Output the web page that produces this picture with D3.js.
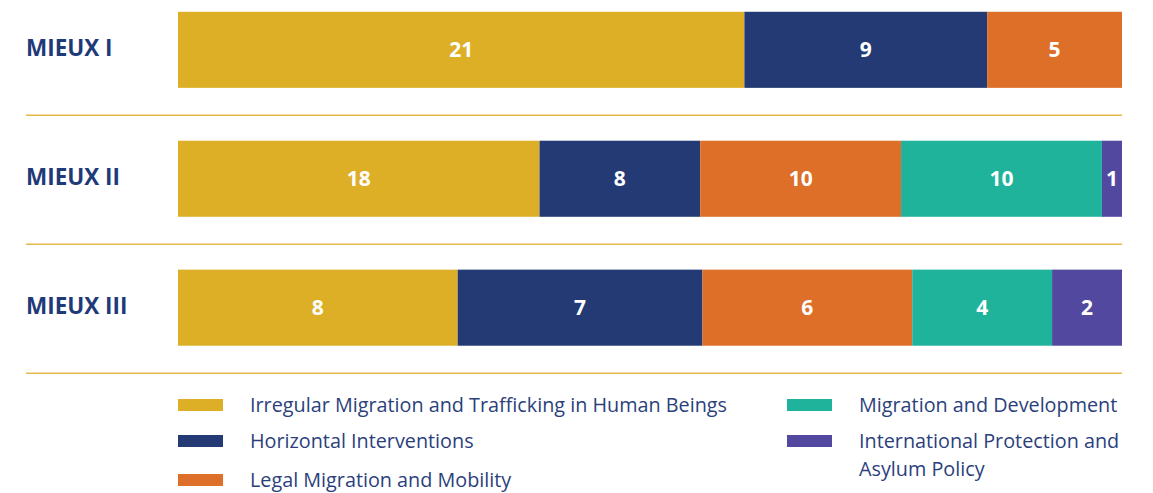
<!DOCTYPE html>
<html>
<head>
<meta charset="utf-8">
<script src="https://cdn.jsdelivr.net/npm/d3@7"></script>
<style>
  body { margin: 0; background: #fff; }
  svg { display: block; font-family: "Open Sans", "Noto Sans", sans-serif; }
</style>
</head>
<body>
<div id="chart"></div>
<script>
// data
const programmes = ["MIEUX I", "MIEUX II", "MIEUX III"]
const themes = [
  "Irregular Migration and Trafficking in Human Beings",
  "Horizontal Interventions",
  "Legal Migration and Mobility",
  "Migration and Development",
  "International Protection and Asylum Policy"
]
const irregular = [21, 18, 8]
const horizontal = [9, 8, 7]
const legal = [5, 10, 6]
const development = [0, 10, 4]
const protection = [0, 1, 2]
const colours = ["#dcaf26", "#233a74", "#dd6f28", "#20b39c", "#52489f"]

const WIDTH = 1153
const HEIGHT = 493
const BAR_LEFT = 178
const BAR_RIGHT = 1122

const rows = programmes.map((p, i) => ({
  programme: p,
  t0: irregular[i], t1: horizontal[i], t2: legal[i], t3: development[i], t4: protection[i]
}))
const keys = ["t0", "t1", "t2", "t3", "t4"]

const svg = d3.select("#chart").append("svg")
  .attr("width", WIDTH)
  .attr("height", HEIGHT)

const y = d3.scaleBand()
  .domain(programmes)
  .range([-14, 371.5])
  .paddingInner(0.41)
  .paddingOuter(0.2)

const stack = d3.stack().keys(keys)(rows)
const totals = rows.map(r => d3.sum(keys, k => r[k]))

const colour = d3.scaleOrdinal().domain(keys).range(colours)

// one x scale per row, since each bar fills the full width
const xFor = i => d3.scaleLinear().domain([0, totals[i]]).range([BAR_LEFT, BAR_RIGHT])

// separators
svg.append("g").selectAll("line")
  .data(programmes)
  .join("line")
    .attr("x1", 26)
    .attr("x2", BAR_RIGHT)
    .attr("y1", d => y(d) + y.bandwidth() + 27.5)
    .attr("y2", d => y(d) + y.bandwidth() + 27.5)
    .attr("stroke", "#e3bb48")
    .attr("stroke-width", 1.5)

const layers = svg.append("g").selectAll("g")
  .data(stack)
  .join("g")
    .attr("fill", d => colour(d.key))

layers.selectAll("rect")
  .data(d => d.map((s, i) => ({ s, i })))
  .join("rect")
    .attr("x", d => xFor(d.i)(d.s[0]))
    .attr("width", d => xFor(d.i)(d.s[1]) - xFor(d.i)(d.s[0]))
    .attr("y", d => y(programmes[d.i]))
    .attr("height", y.bandwidth())

// value labels
layers.selectAll("text")
  .data(d => d.map((s, i) => ({ s, i })).filter(d => d.s[1] - d.s[0] > 0))
  .join("text")
    .attr("x", d => (xFor(d.i)(d.s[0]) + xFor(d.i)(d.s[1])) / 2)
    .attr("y", d => y(programmes[d.i]) + y.bandwidth() / 2)
    .attr("dy", "0.36em")
    .attr("text-anchor", "middle")
    .attr("fill", "#fff")
    .attr("font-weight", 700)
    .attr("font-size", "21px")
    .text(d => d.s[1] - d.s[0])

// row labels
svg.append("g").selectAll("text")
  .data(programmes)
  .join("text")
    .attr("x", 26)
    .attr("y", d => y(d) + y.bandwidth() / 2 - 1.5)
    .attr("dy", "0.36em")
    .attr("fill", "#1f3a78")
    .attr("font-weight", 700)
    .attr("font-size", "22.5px")
    .text(d => d)

// legend
const legendPos = [
  { x: 178, y: 405 }, { x: 178, y: 441 }, { x: 178, y: 480 },
  { x: 787, y: 405 }, { x: 787, y: 441 }
]
const legendLines = [
  [themes[0]], [themes[1]], [themes[2]], [themes[3]],
  ["International Protection and", "Asylum Policy"]
]
const legend = svg.append("g").selectAll("g")
  .data(keys)
  .join("g")
    .attr("transform", (d, i) => `translate(${legendPos[i].x},${legendPos[i].y})`)

legend.append("rect")
  .attr("x", 0)
  .attr("y", -6)
  .attr("width", 45)
  .attr("height", 12)
  .attr("fill", d => colour(d))

legend.append("text")
  .attr("x", 72)
  .attr("fill", "#2b3f7c")
  .attr("font-size", "19.8px")
  .selectAll("tspan")
  .data((d, i) => legendLines[i])
  .join("tspan")
    .attr("x", 72)
    .attr("dy", (d, j) => j === 0 ? "0.36em" : "28px")
    .text(d => d)
</script>
</body>
</html>
